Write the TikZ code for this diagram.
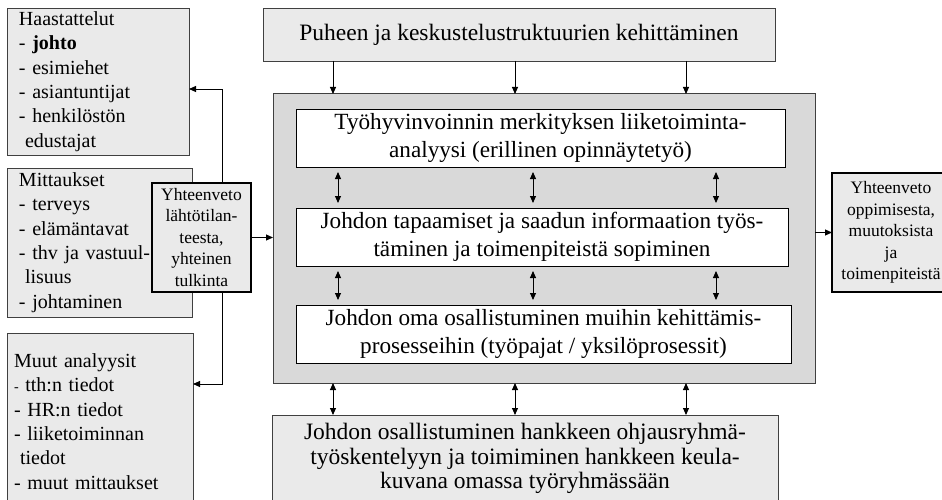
\documentclass[tikz,border=0pt]{standalone}
\usepackage{fontspec}
\setmainfont{Liberation Serif}
\usetikzlibrary{arrows.meta, positioning, calc}

\definecolor{boxgray}{HTML}{EAEAEA}
\definecolor{framegray}{HTML}{D9D9D9}
\definecolor{edgegray}{HTML}{404040}

\begin{document}
\begin{tikzpicture}[
    x=1pt, y=-1pt,
    every node/.style={rectangle, outer sep=0pt, inner sep=0pt},
    srcbox/.style={draw=edgegray, line width=0.9pt, fill=boxgray, align=left,
      inner xsep=12pt, font=\fontsize{20}{24.4}\selectfont},
    sumbox/.style={draw=black, line width=2.2pt, fill=boxgray, align=center,
      font=\fontsize{17.5}{21.5}\selectfont},
    phasebox/.style={draw=edgegray, line width=0.9pt, fill=boxgray, align=center,
      font=\fontsize{23.5}{24.5}\selectfont},
    stepbox/.style={draw=black, line width=0.9pt, fill=white, align=center,
      minimum height=58pt, font=\fontsize{23.2}{28}\selectfont},
    flow/.style={draw, line width=0.9pt, -{Triangle[length=7pt,width=6pt]}},
    both/.style={draw, line width=0.9pt, {Triangle[length=7pt,width=6pt]}-{Triangle[length=7pt,width=6pt]}}
  ]
  \useasboundingbox (0,0) rectangle (942,500);
  \clip (0,0) rectangle (942,500);

  % lahtotiedot vasemmalla
  \node[srcbox, text width=158pt, minimum height=147pt] (haast) at (98,81.5) {%
    Haastattelut\\
    - \textbf{johto}\\
    - esimiehet\\
    - asiantuntijat\\
    - henkilöstön\\
    \hspace*{6pt}edustajat};
  \node[srcbox, text width=161pt, minimum height=149pt] (mitt) at (99.5,242.5) {%
    Mittaukset\\
    - terveys\\
    - elämäntavat\\
    - thv ja vastuul-\\
    \hspace*{6pt}lisuus\\
    - johtaminen};
  \node[srcbox, inner xsep=7pt, text width=172pt, minimum height=177pt] (muut) at (100,421.5) {%
    Muut analyysit\\
    {\fontsize{14}{14}\selectfont -} tth:n tiedot\\
    - HR:n tiedot\\
    - liiketoiminnan\\
    \hspace*{6pt}tiedot\\
    - muut mittaukset};
  \node[sumbox, minimum width=99pt, minimum height=109pt] (yhtL) at (201.5,237.5) {%
    Yhteenveto\\lähtötilan-\\teesta,\\yhteinen\\tulkinta};

  % kehittamisen runko
  \node[phasebox, minimum width=512pt, minimum height=53pt] (puhe) at (519,34.5)
    {Puheen ja keskustelustruktuurien kehittäminen};
  \node[draw=edgegray, line width=1pt, fill=framegray, minimum width=542pt,
    minimum height=289pt] (main) at (544,238.5) {};
  \node[stepbox, minimum width=489pt] (analyysi) at (540.5,138)
    {Työhyvinvoinnin merkityksen liiketoiminta-\\analyysi (erillinen opinnäytetyö)};
  \node[stepbox, minimum width=492pt] (tapaam) at (542,237)
    {Johdon tapaamiset ja saadun informaation työs-\\täminen ja toimenpiteistä sopiminen};
  \node[stepbox, minimum width=495pt] (osall) at (543.5,334)
    {Johdon oma osallistuminen muihin kehittämis-\\prosesseihin (työpajat / yksilöprosessit)};
  \node[phasebox, minimum width=506pt, minimum height=87pt] (ohjaus) at (525,458.5)
    {Johdon osallistuminen hankkeen ohjausryhmä-\\työskentelyyn ja toimiminen hankkeen keula-\\kuvana omassa työryhmässään};

  \node[sumbox, minimum width=118pt, minimum height=119pt] (yhtR) at (891,232.5) {%
    Yhteenveto\\oppimisesta,\\muutoksista\\ja\\toimenpiteistä};

  % nuolet
  \draw[flow] ([xshift=20.5pt]yhtL.north) |- ([yshift=-7.5pt]haast.east);
  \draw[flow] ([xshift=20.5pt]yhtL.south) |- ([yshift=37.5pt]muut.east);
  \draw[flow] (yhtL.east) -- (yhtL.east -| main.west);
  \draw[flow] (main.east |- yhtR.west) -- (yhtR.west);
  \foreach \x in {333,515,686} {
    \draw[flow] (puhe.south -| \x,0) -- (main.north -| \x,0);
    \draw[both] (main.south -| \x,0) -- (ohjaus.north -| \x,0);
  }
  \foreach \x in {338,533,716} {
    \draw[both, shorten <=5pt, shorten >=5pt] (analyysi.south -| \x,0) -- (tapaam.north -| \x,0);
    \draw[both, shorten <=5pt, shorten >=5pt] (tapaam.south -| \x,0) -- (osall.north -| \x,0);
  }
\end{tikzpicture}
\end{document}
